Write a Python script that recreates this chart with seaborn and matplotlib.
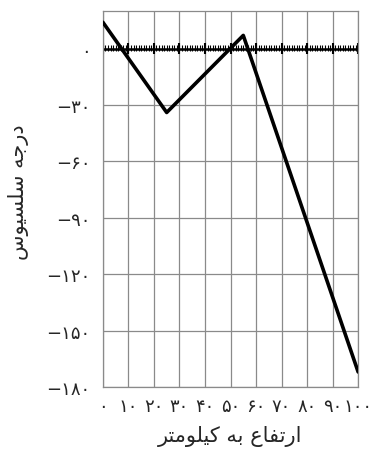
import numpy as np
import pandas as pd
import seaborn as sns
import matplotlib.pyplot as plt

'''
DATA
'''
altitude_km = [0, 25, 55, 100]
temperature_c = [14, -34, 7, -172]

x_ticks = [0, 10, 20, 30, 40, 50, 60, 70, 80, 90, 100]
y_ticks = [0, -30, -60, -90, -120, -150, -180]

x_title = 'ارتفاع به کیلومتر'
y_title = 'درجه سلسیوس'

'''
PERSIAN TEXT HELPERS (matplotlib does no arabic shaping)
'''
# isolated, final, initial, medial
FORMS = {
    'ا': ('\uFE8D', '\uFE8E', None, None),
    'ر': ('\uFEAD', '\uFEAE', None, None),
    'د': ('\uFEA9', '\uFEAA', None, None),
    'و': ('\uFEED', '\uFEEE', None, None),
    'ت': ('\uFE95', '\uFE96', '\uFE97', '\uFE98'),
    'ف': ('\uFED1', '\uFED2', '\uFED3', '\uFED4'),
    'ع': ('\uFEC9', '\uFECA', '\uFECB', '\uFECC'),
    'ب': ('\uFE8F', '\uFE90', '\uFE91', '\uFE92'),
    'ه': ('\uFEE9', '\uFEEA', '\uFEEB', '\uFEEC'),
    'ک': ('\uFB8E', '\uFB8F', '\uFB90', '\uFB91'),
    'ی': ('\uFBFC', '\uFBFD', '\uFBFE', '\uFBFF'),
    'ل': ('\uFEDD', '\uFEDE', '\uFEDF', '\uFEE0'),
    'م': ('\uFEE1', '\uFEE2', '\uFEE3', '\uFEE4'),
    'ج': ('\uFE9D', '\uFE9E', '\uFE9F', '\uFEA0'),
    'س': ('\uFEB1', '\uFEB2', '\uFEB3', '\uFEB4'),
}

def shape_fa(text):
    out = []
    for i, c in enumerate(text):
        if c not in FORMS:
            out.append(c)
            continue
        prev = text[i - 1] if i > 0 else ''
        nxt = text[i + 1] if i < len(text) - 1 else ''
        join_prev = prev in FORMS and FORMS[prev][2] is not None
        join_next = nxt in FORMS and FORMS[c][2] is not None
        if join_prev and join_next:
            out.append(FORMS[c][3])
        elif join_prev:
            out.append(FORMS[c][1])
        elif join_next:
            out.append(FORMS[c][2])
        else:
            out.append(FORMS[c][0])
    return ''.join(out)[::-1]

FA_DIGITS = str.maketrans('0123456789', '۰۱۲۳۴۵۶۷۸۹')

def fa_num(v):
    s = str(abs(v)).translate(FA_DIGITS)
    return ('\u2212' + s) if v < 0 else s

'''
PLOT
'''
sns.set_style('white')
plt.rcParams['font.family'] = ['DejaVu Sans']

df = pd.DataFrame({'altitude': altitude_km, 'temperature': temperature_c})

fig = plt.figure(figsize=(3.81, 4.60), dpi=100)
ax = fig.add_axes([0.270, 0.1565, 0.670, 0.8175])

grid_color = '#8a8a8a'
for xv in x_ticks:
    ax.axvline(xv, color=grid_color, lw=0.9, zorder=1)
for yv in y_ticks:
    ax.axhline(yv, color=grid_color, lw=0.9, zorder=1)

# ruler on the zero line
ax.axhline(0, color='black', lw=1.8, zorder=2)
ax.vlines(np.arange(0, 101, 1), -1.4, 2.0, color='black', lw=0.8, zorder=2)
ax.vlines(x_ticks, -2.8, 3.0, color='black', lw=1.5, zorder=2)

sns.lineplot(data=df, x='altitude', y='temperature', color='black',
             lw=2.6, ax=ax, zorder=3)

ax.set_xlim(0, 100)
ax.set_ylim(-180, 20)
ax.set_xticks(x_ticks)
ax.set_xticklabels([fa_num(v) for v in x_ticks], fontsize=13)
ax.set_yticks(y_ticks)
ax.set_yticklabels([fa_num(v) for v in y_ticks], fontsize=13)
ax.tick_params(axis='both', length=0)
ax.tick_params(axis='x', pad=7)
ax.tick_params(axis='y', pad=9)

for sp in ax.spines.values():
    sp.set_color(grid_color)
    sp.set_linewidth(0.9)

ax.set_xlabel(shape_fa(x_title), fontsize=15)
ax.xaxis.set_label_coords(0.5, -0.102)
ax.set_ylabel(shape_fa(y_title), fontsize=15)
ax.yaxis.set_label_coords(-0.29, 0.52)

fig.savefig('out.png', dpi=100)
